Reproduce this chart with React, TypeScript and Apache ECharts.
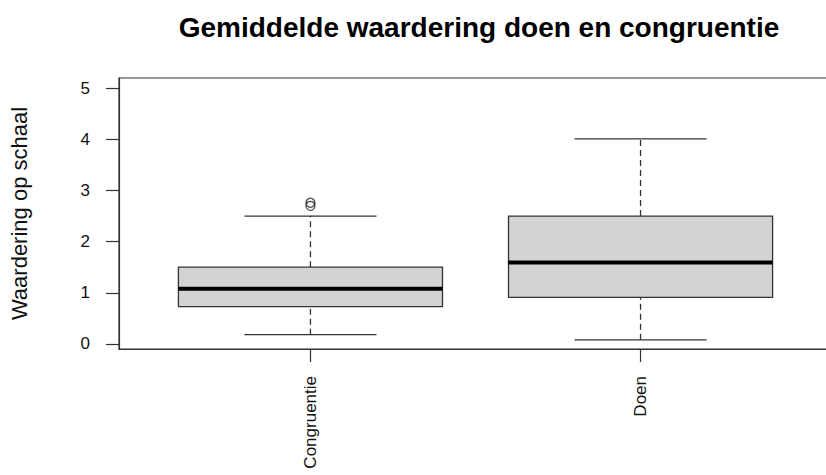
import React, { useEffect, useRef } from "react";
import * as echarts from "echarts";

const categories = ["Congruentie", "Doen"];
// [lower whisker, Q1, median, Q3, upper whisker]
const boxStats = [
  [0.18, 0.73, 1.08, 1.5, 2.5],
  [0.08, 0.91, 1.59, 2.5, 4.01],
];
const outliers = [
  [1, 2.76],
  [1, 2.7],
];
const yTicks = [0, 1, 2, 3, 4, 5];
const xTicks = [1, 2];

const FONT = "Liberation Sans, Arial, sans-serif";
const LINE = "#333";

export default function App() {
  const ref = useRef<HTMLDivElement>(null);
  useEffect(() => {
    if (!ref.current) return;
    const chart = echarts.init(ref.current, undefined, { renderer: "svg" });
    const boxData = boxStats.map((s, i) => [i + 1, ...s]);
    chart.setOption({
      animation: false,
      textStyle: { fontFamily: FONT },
      title: {
        text: "Gemiddelde waardering doen en congruentie",
        left: 474,
        textAlign: "center",
        top: 8,
        textStyle: { fontFamily: FONT, fontSize: 28, fontWeight: "bold", color: "#000" },
      },
      grid: {
        left: 117,
        top: 78,
        right: 18,
        bottom: 126,
        show: true,
        borderColor: LINE,
        borderWidth: 1.2,
        backgroundColor: "transparent",
      },
      xAxis: {
        type: "value",
        min: 0.42,
        max: 2.58,
        splitLine: { show: false },
        axisLine: { show: true, onZero: false, lineStyle: { color: LINE, width: 1.2 } },
        axisTick: { show: true, customValues: xTicks, length: 13, lineStyle: { color: LINE, width: 1.2 } },
        axisLabel: {
          customValues: xTicks,
          rotate: 90,
          margin: 27,
          fontSize: 17,
          fontFamily: FONT,
          color: "#111",
          formatter: (v: number) => categories[Math.round(v) - 1] ?? "",
        },
      },
      yAxis: {
        type: "value",
        min: -0.1,
        max: 5.2,
        name: "Waardering op schaal",
        nameLocation: "middle",
        nameGap: 89,
        nameTextStyle: { fontSize: 22, fontFamily: FONT, color: "#111" },
        splitLine: { show: false },
        axisLine: { show: true, onZero: false, lineStyle: { color: LINE, width: 1.2 } },
        axisTick: { show: true, customValues: yTicks, length: 13, lineStyle: { color: LINE, width: 1.2 } },
        axisLabel: {
          customValues: yTicks,
          margin: 29,
          fontSize: 17,
          fontFamily: FONT,
          color: "#111",
        },
      },
      series: [
        {
          type: "custom",
          data: boxData,
          encode: { x: 0, y: [1, 2, 3, 4, 5] },
          renderItem: (params: any, api: any) => {
            const x = api.value(0);
            const lo = api.coord([x, api.value(1)]);
            const q1 = api.coord([x, api.value(2)]);
            const med = api.coord([x, api.value(3)]);
            const q3 = api.coord([x, api.value(4)]);
            const hi = api.coord([x, api.value(5)]);
            const halfW = api.size([0.4, 0])[0];
            const capW = halfW / 2;
            const cx = lo[0];
            const dash = { stroke: LINE, lineWidth: 1.3, lineDash: [6, 4] };
            const solid = { stroke: LINE, lineWidth: 1.3 };
            return {
              type: "group",
              children: [
                { type: "line", shape: { x1: cx, y1: q3[1], x2: cx, y2: hi[1] }, style: dash },
                { type: "line", shape: { x1: cx, y1: lo[1], x2: cx, y2: q1[1] }, style: dash },
                { type: "line", shape: { x1: cx - capW, y1: hi[1], x2: cx + capW, y2: hi[1] }, style: solid },
                { type: "line", shape: { x1: cx - capW, y1: lo[1], x2: cx + capW, y2: lo[1] }, style: solid },
                {
                  type: "rect",
                  shape: { x: cx - halfW, y: q3[1], width: 2 * halfW, height: q1[1] - q3[1] },
                  style: { fill: "#d3d3d3", stroke: LINE, lineWidth: 1.3 },
                },
                {
                  type: "line",
                  shape: { x1: cx - halfW, y1: med[1], x2: cx + halfW, y2: med[1] },
                  style: { stroke: "#000", lineWidth: 4 },
                },
              ],
            };
          },
        },
        {
          type: "scatter",
          data: outliers,
          symbol: "circle",
          symbolSize: 9,
          itemStyle: { color: "transparent", borderColor: "#222", borderWidth: 1.3 },
        },
      ],
    });
    return () => chart.dispose();
  }, []);
  return (
    <div style={{ position: "absolute", left: 0, top: 0, width: 826, height: 475, overflow: "hidden", background: "#fff" }}>
      <div ref={ref} style={{ width: 850, height: 475 }} />
    </div>
  );
}
